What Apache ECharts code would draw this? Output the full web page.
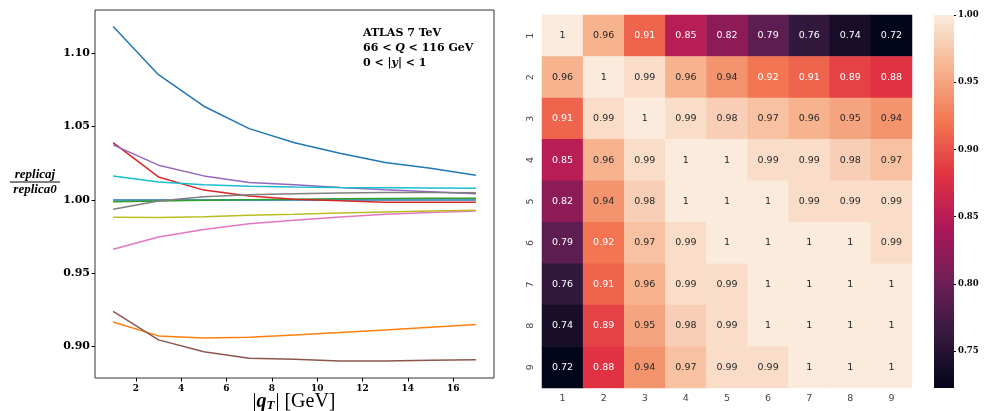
<!DOCTYPE html>
<html>
<head>
<meta charset="utf-8">
<script src="https://cdn.jsdelivr.net/npm/echarts@6/dist/echarts.min.js"></script>
<style>html,body{margin:0;padding:0;background:#fff}#c{width:986px;height:411px}</style>
</head>
<body>
<div id="c"></div>
<script>
// ---- Left panel data: ratio replica j / replica 0 vs |qT| ----
const qT = [1, 3, 5, 7, 9, 11, 13, 15, 17];
const replica0  = [1.0000, 1.0000, 1.0000, 1.0000, 1.0000, 1.0000, 1.0000, 1.0000, 1.0000];
const replica1  = [0.9168, 0.9073, 0.9058, 0.9064, 0.9080, 0.9096, 0.9114, 0.9132, 0.9151];
const replica2  = [0.9987, 0.9993, 0.9998, 1.0002, 1.0005, 1.0008, 1.0010, 1.0011, 1.0012];
const replica3  = [1.0391, 1.0157, 1.0067, 1.0027, 1.0005, 0.9995, 0.9985, 0.9984, 0.9984];
const replica4  = [1.0375, 1.0237, 1.0164, 1.0119, 1.0103, 1.0085, 1.0069, 1.0056, 1.0043];
const replica5  = [0.9241, 0.9046, 0.8965, 0.8920, 0.8913, 0.8902, 0.8902, 0.8907, 0.8910];
const replica6  = [0.9664, 0.9748, 0.9798, 0.9838, 0.9861, 0.9884, 0.9902, 0.9915, 0.9925];
const replica7  = [0.9937, 0.9993, 1.0022, 1.0036, 1.0043, 1.0047, 1.0050, 1.0050, 1.0049];
const replica8  = [0.9882, 0.9880, 0.9886, 0.9895, 0.9902, 0.9911, 0.9918, 0.9925, 0.9929];
const replica9  = [1.0164, 1.0123, 1.0103, 1.0094, 1.0088, 1.0085, 1.0083, 1.0082, 1.0080];
const replica10 = [1.1182, 1.0854, 1.0639, 1.0486, 1.0390, 1.0318, 1.0255, 1.0216, 1.0169];
const replicas = [replica0, replica1, replica2, replica3, replica4, replica5, replica6, replica7, replica8, replica9, replica10];
const xTicks = [2, 4, 6, 8, 10, 12, 14, 16];
const yTicks = [0.90, 0.95, 1.00, 1.05, 1.10];

// ---- Right panel data: correlation matrix ----
const binLabels = ['1', '2', '3', '4', '5', '6', '7', '8', '9'];
const corrRow1 = [1, 0.96, 0.91, 0.85, 0.82, 0.79, 0.76, 0.74, 0.7225];
const corrRow2 = [0.96, 1, 0.99, 0.96, 0.94, 0.92, 0.91, 0.89, 0.88];
const corrRow3 = [0.91, 0.99, 1, 0.99, 0.98, 0.97, 0.96, 0.95, 0.94];
const corrRow4 = [0.85, 0.96, 0.99, 1, 1, 0.99, 0.99, 0.98, 0.97];
const corrRow5 = [0.82, 0.94, 0.98, 1, 1, 1, 0.99, 0.99, 0.99];
const corrRow6 = [0.79, 0.92, 0.97, 0.99, 1, 1, 1, 1, 0.99];
const corrRow7 = [0.76, 0.91, 0.96, 0.99, 0.99, 1, 1, 1, 1];
const corrRow8 = [0.74, 0.89, 0.95, 0.98, 0.99, 1, 1, 1, 1];
const corrRow9 = [0.7225, 0.88, 0.94, 0.97, 0.99, 0.99, 1, 1, 1];
const corrRows = [corrRow1, corrRow2, corrRow3, corrRow4, corrRow5, corrRow6, corrRow7, corrRow8, corrRow9];
const cbarTicks = [0.75, 0.80, 0.85, 0.90, 0.95, 1.00];
const corrMin = 0.7225, corrMax = 1.0;

const tab10 = ['#1f77b4', '#ff7f0e', '#2ca02c', '#d62728', '#9467bd', '#8c564b', '#e377c2', '#7f7f7f', '#bcbd22', '#17becf'];
const rocket = ['#03051a', '#35193e', '#701f57', '#ad1759', '#e13342', '#f37651', '#f6b48f', '#faebdd'];

const serifBold = {fontFamily: 'DejaVu Serif', fontWeight: 'bold', color: '#000'};

const lineSeries = replicas.map((arr, i) => ({
  type: 'line', xAxisIndex: 0, yAxisIndex: 0,
  data: arr.map((v, k) => [qT[k], v]),
  showSymbol: false, symbol: 'none', silent: true,
  lineStyle: {width: 1.5, color: tab10[i % 10]},
  animation: false
}));

const heatData = [];
corrRows.forEach((row, r) => row.forEach((v, c) => {
  heatData.push({value: [c, r, v], label: {color: v < 0.93 ? '#ffffff' : '#262626'}});
}));

// colour bar gradient (top = max, bottom = min)
const cbarStops = rocket.map((c, i) => ({offset: 1 - i / (rocket.length - 1), color: c})).reverse();

const chart = echarts.init(document.getElementById('c'), null, {renderer: 'canvas'});
chart.setOption({
  animation: false,
  backgroundColor: '#fff',
  grid: [
    {left: 95, top: 10, width: 399, height: 368, show: true, borderColor: '#333', borderWidth: 1, containLabel: false},
    {left: 542, top: 15, width: 370, height: 373, containLabel: false},
    {left: 934, top: 15, width: 20, height: 373, containLabel: false}
  ],
  xAxis: [
    {gridIndex: 0, type: 'value', min: 0.2, max: 17.8,
     axisLine: {show: false}, splitLine: {show: false},
     axisTick: {show: true, length: 3.5, lineStyle: {color: '#000'}, customValues: xTicks},
     axisLabel: Object.assign({customValues: xTicks, fontSize: 9, margin: 6, formatter: v => String(v)}, serifBold)},
    {gridIndex: 1, type: 'category', data: binLabels, position: 'bottom',
     axisLine: {show: false}, axisTick: {show: false}, splitLine: {show: false},
     axisLabel: {fontFamily: 'DejaVu Sans', fontSize: 9.5, color: '#444', margin: 6}},
    {gridIndex: 2, type: 'value', show: false, min: 0, max: 1}
  ],
  yAxis: [
    {gridIndex: 0, type: 'value', min: 0.8786, max: 1.1295,
     axisLine: {show: false}, splitLine: {show: false},
     axisTick: {show: true, length: 3.5, lineStyle: {color: '#000'}, customValues: yTicks},
     axisLabel: Object.assign({customValues: yTicks, fontSize: 11, margin: 5, formatter: v => v.toFixed(2)}, serifBold)},
    {gridIndex: 1, type: 'category', data: binLabels, inverse: true,
     axisLine: {show: false}, axisTick: {show: false}, splitLine: {show: false},
     axisLabel: {fontFamily: 'DejaVu Sans', fontSize: 9.5, color: '#444', rotate: 90, margin: 6}},
    {gridIndex: 2, type: 'value', position: 'right', min: corrMin, max: corrMax,
     axisLine: {show: false, onZero: false}, splitLine: {show: false},
     axisTick: {show: true, length: 2, lineStyle: {color: '#000'}, customValues: cbarTicks},
     axisLabel: Object.assign({customValues: cbarTicks, fontSize: 8.5, margin: 4, formatter: v => v.toFixed(2)}, serifBold)}
  ],
  visualMap: {
    type: 'continuous', min: corrMin, max: corrMax, seriesIndex: replicas.length,
    show: false, inRange: {color: rocket}
  },
  series: lineSeries.concat([{
    type: 'heatmap', xAxisIndex: 1, yAxisIndex: 1, data: heatData, silent: true,
    label: {show: true, fontFamily: 'DejaVu Sans', fontSize: 9.5,
      formatter: p => String(Number(p.value[2].toPrecision(2)))},
    itemStyle: {borderWidth: 0}
  }]),
  graphic: [
    {type: 'rect', silent: true, z: 0,
     shape: {x: 934, y: 15, width: 20, height: 373},
     style: {fill: new echarts.graphic.LinearGradient(0, 0, 0, 1, cbarStops)}},
    {type: 'text', left: 363, top: 28, silent: true,
     style: {
       text: '{b|ATLAS 7 TeV}\n{b|66 < }{i|Q}{b| < 116 GeV}\n{b|0 < |}{i|y}{b|| < 1}',
       rich: {
         b: {fontFamily: 'DejaVu Serif', fontWeight: 'bold', fontSize: 11, fill: '#000', lineHeight: 15},
         i: {fontFamily: 'DejaVu Serif', fontWeight: 'bold', fontStyle: 'italic', fontSize: 11, fill: '#000', lineHeight: 15}
       }
     }},
    {type: 'text', x: 35, y: 175, silent: true,
     style: {text: 'replicaj', fontFamily: 'Liberation Serif', fontWeight: 'bold', fontStyle: 'italic', fontSize: 13, fill: '#000', align: 'center', verticalAlign: 'middle'}},
    {type: 'line', silent: true, shape: {x1: 10, y1: 182, x2: 60, y2: 182}, style: {stroke: '#000', lineWidth: 1}},
    {type: 'text', x: 35, y: 190, silent: true,
     style: {text: 'replica0', fontFamily: 'Liberation Serif', fontWeight: 'bold', fontStyle: 'italic', fontSize: 13, fill: '#000', align: 'center', verticalAlign: 'middle'}},
    {type: 'text', x: 294, y: 402, silent: true,
     style: {
       text: '{n||}{q|q}{s|T}{n|| [GeV]}',
       rich: {
         n: {fontFamily: 'Liberation Serif', fontSize: 20, fill: '#000'},
         q: {fontFamily: 'Liberation Serif', fontSize: 20, fontStyle: 'italic', fontWeight: 'bold', fill: '#000'},
         s: {fontFamily: 'Liberation Serif', fontSize: 13, fontStyle: 'italic', fontWeight: 'bold', fill: '#000', verticalAlign: 'bottom', padding: [8, 1, 0, 0]}
       },
       align: 'center', verticalAlign: 'middle'
     }}
  ]
});
</script>
</body>
</html>
